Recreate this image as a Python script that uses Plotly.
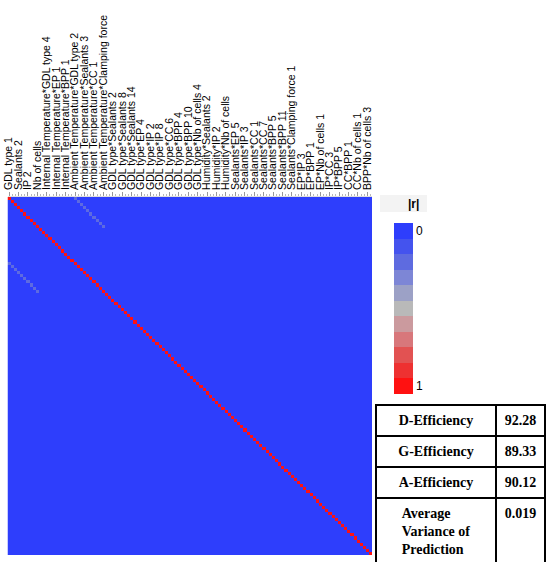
import numpy as np
import plotly.graph_objects as go

# model terms: the map has one row/column per term, every third one is labelled
n_terms = 116
label_step = 3
labeled_terms = [
    "GDL type 1", "Sealants 2", "IP 2", "Nb of cells",
    "Internal Temperature*GDL type 4", "Internal Temperature*EP 1",
    "Internal Temperature*BPP 1", "Ambient Temperature*GDL type 2",
    "Ambient Temperature*Sealants 3", "Ambient Temperature*CC 1",
    "Ambient Temperature*Clamping force", "GDL type*Sealants 2",
    "GDL type*Sealants 8", "GDL type*Sealants 14", "GDL type*EP 4",
    "GDL type*IP 2", "GDL type*IP 8", "GDL type*CC 6", "GDL type*BPP 4",
    "GDL type*BPP 10", "GDL type*Nb of cells 4", "Humidity*Sealants 2",
    "Humidity*IP 2", "Humidity*Nb of cells", "Sealants*EP 5", "Sealants*IP 3",
    "Sealants*CC 1", "Sealants*CC 7", "Sealants*BPP 5", "Sealants*BPP 11",
    "Sealants*Clamping force 1", "EP*IP 3", "EP*BPP 1", "EP*Nb of cells 1",
    "IP*CC 3", "IP*BPP 5", "CC*BPP 1", "CC*Nb of cells 1", "BPP*Nb of cells 3",
]

# the only visible off-diagonal correlations (faint band near the top-left)
pair_rows = [0, 1, 2, 3, 4, 5, 6, 7, 8, 9]
pair_cols = [21, 22, 23, 24, 25, 26, 27, 28, 29, 30]
pair_abs_r = [0.2, 0.22, 0.21, 0.24, 0.22, 0.23, 0.21, 0.22, 0.2, 0.19]

# colour bands of the |r| legend, from 0 (blue) to 1 (red)
band_colors = [
    "#2E3EFC", "#4453EE", "#5E6BE0", "#7D86D6", "#9CA1C6", "#B9B9B9",
    "#CB9A9E", "#D8777B", "#E25252", "#EE3131", "#FF1111",
]

# design diagnostics table
diag_names = ["D-Efficiency", "G-Efficiency", "A-Efficiency",
              "Average<br>Variance of<br>Prediction"]
diag_values = ["92.28", "89.33", "90.12", "0.019"]

W, H = 550, 562

abs_r = np.zeros((n_terms, n_terms))
np.fill_diagonal(abs_r, 1.0)
for r, c, v in zip(pair_rows, pair_cols, pair_abs_r):
    abs_r[r, c] = v
    abs_r[c, r] = v

# plotly colorbars always go low->high upwards, so plot -|r| to get 0 on top
n_bands = len(band_colors)
scale = []
for k, col in enumerate(band_colors[::-1]):
    scale.append([k / n_bands, col])
    scale.append([(k + 1) / n_bands, col])

fig = go.Figure()

fig.add_trace(go.Heatmap(
    z=-abs_r,
    x=list(range(n_terms)),
    y=list(range(n_terms)),
    zmin=-1, zmax=0,
    colorscale=scale,
    colorbar=dict(
        x=384 / W, xanchor="left",
        y=1 - 213 / H, yanchor="top",
        thickness=19, thicknessmode="pixels",
        len=191, lenmode="pixels",
        outlinewidth=0,
        tickmode="array",
        tickvals=[-0.5 / n_bands, -1 + 0.5 / n_bands],
        ticktext=["0", "1"],
        ticks="",
        tickfont=dict(family="Liberation Sans", size=12, color="black"),
    ),
    hovertemplate="%{x}, %{y}: %{z}<extra></extra>",
))

table_font = dict(family="Liberation Serif", size=14, color="black")
fig.add_trace(go.Table(
    domain=dict(x=[376 / W, 545 / W], y=[0, 157 / H]),
    columnwidth=[120, 49],
    header=dict(
        values=["<b>" + diag_names[0] + "</b>", "<b>" + diag_values[0] + "</b>"],
        align="center", height=29,
        line=dict(color="black", width=1.5),
        fill=dict(color="white"),
        font=table_font,
    ),
    cells=dict(
        values=[["<b>" + s + "</b>" for s in diag_names[1:]],
                ["<b>" + s + "</b>" for s in diag_values[1:]]],
        align="center", height=27,
        line=dict(color="black", width=1.5),
        fill=dict(color="white"),
        font=table_font,
    ),
))

# light header behind the |r| legend title
fig.add_shape(type="rect", xref="paper", yref="paper",
              x0=380 / W, x1=427 / W, y0=1 - 212 / H, y1=1 - 195 / H,
              line_width=0, fillcolor="#F3F3F3", layer="below")
fig.add_annotation(text="<b>|r|</b>", xref="paper", yref="paper",
                   x=406 / W, y=1 - 204 / H, xanchor="left", yanchor="middle",
                   showarrow=False,
                   font=dict(family="Liberation Sans", size=12, color="black"))

tick_idx = list(range(0, n_terms, label_step))[:len(labeled_terms)]

fig.update_layout(
    width=W, height=H,
    margin=dict(l=0, r=0, t=0, b=0),
    paper_bgcolor="white",
    plot_bgcolor="white",
    showlegend=False,
    xaxis=dict(
        domain=[7.5 / W, 372 / W],
        range=[-0.5, n_terms - 0.5],
        side="top",
        tickmode="array", tickvals=tick_idx, ticktext=labeled_terms,
        tickangle=-90,
        tickfont=dict(family="Liberation Sans", size=10.5, color="black"),
        ticks="outside", ticklen=4, tickcolor="#999999", tickwidth=1,
        minor=dict(tickmode="linear", tick0=0, dtick=1, ticks="outside",
                   ticklen=2, tickcolor="#BBBBBB"),
        showgrid=False, zeroline=False,
        showline=True, linecolor="#DDDDDD",
        automargin=False,
    ),
    yaxis=dict(
        domain=[1 - 555 / H, 1 - 197 / H],
        range=[n_terms - 0.5, -0.5],
        showticklabels=False, ticks="",
        showgrid=False, zeroline=False,
        automargin=False,
    ),
)

# drop the browser's default 8px body margin so the figure sits at (0, 0)
fig.write_html("out.html", config={"displayModeBar": False},
               post_script="document.body.style.margin='0';")
